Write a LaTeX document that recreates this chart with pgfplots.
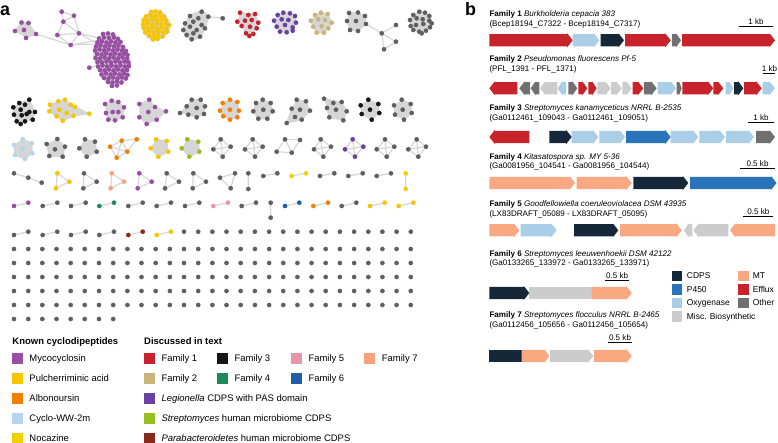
\documentclass[border=0pt]{standalone}
\usepackage{pgfplots}
\pgfplotsset{compat=1.18}
\usepackage{fontspec}
\setmainfont{Liberation Sans}
\definecolor{myco}{RGB}{152,78,163}
\definecolor{pulch}{RGB}{246,196,0}
\definecolor{albo}{RGB}{243,128,0}
\definecolor{cww}{RGB}{183,212,238}
\definecolor{noca}{RGB}{238,210,0}
\definecolor{fam1}{RGB}{200,32,44}
\definecolor{fam2}{RGB}{203,180,122}
\definecolor{fam3}{RGB}{22,22,22}
\definecolor{fam4}{RGB}{30,138,90}
\definecolor{fam5}{RGB}{232,150,166}
\definecolor{fam6}{RGB}{31,95,168}
\definecolor{fam7}{RGB}{250,160,124}
\definecolor{legio}{RGB}{106,64,160}
\definecolor{strep}{RGB}{150,192,30}
\definecolor{parab}{RGB}{140,40,25}
\definecolor{ngray}{RGB}{95,95,95}
\definecolor{egray}{RGB}{214,214,214}
\definecolor{cdps}{RGB}{20,40,58}
\definecolor{p450}{RGB}{40,115,185}
\definecolor{oxy}{RGB}{170,205,232}
\definecolor{misc}{RGB}{204,204,204}
\definecolor{mt}{RGB}{250,168,130}
\definecolor{efflux}{RGB}{200,35,43}
\definecolor{other}{RGB}{112,112,112}
\newcommand{\fa}{\fontsize{9.5}{11}\selectfont}
\newcommand{\fb}{\fontsize{8.1}{9.5}\selectfont}
\newcommand{\fc}{\fontsize{8.5}{10}\selectfont}
\pgfplotsset{
 nd/.style={only marks, mark=*, mark size=2.1, forget plot},
 ed/.style={no marks, draw=egray, line width=1.2pt, forget plot, unbounded coords=jump},
 hull/.style={no marks, fill=egray, draw=egray, line width=1.2pt, forget plot},
}
\newcommand{\garrow}[4]{%
 \pgfmathsetmacro\gL{abs(#2-#1)}%
 \pgfmathsetmacro\gH{min(5.5,0.55*\gL)}%
 \pgfmathsetmacro\gB{#2-sign(#2-#1)*\gH}%
 \pgfmathsetmacro\gT{#3-6.2}\pgfmathsetmacro\gBt{#3+6.2}%
 \pgfmathsetmacro\gTT{#3-7}\pgfmathsetmacro\gBB{#3+7}%
 \edef\gtmp{\noexpand\addplot[fill=#4,draw=none,forget plot] coordinates {(#1,\gT)(\gB,\gT)(\gB,\gTT)(#2,#3)(\gB,\gBB)(\gB,\gBt)(#1,\gBt)};}%
 \gtmp}
\newcommand{\gbox}[4]{%
 \pgfmathsetmacro\gT{#3-6.2}\pgfmathsetmacro\gBt{#3+6.2}%
 \edef\gtmp{\noexpand\addplot[fill=#4,draw=none,forget plot] coordinates {(#1,\gT)(#2,\gT)(#2,\gBt)(#1,\gBt)};}%
 \gtmp}
\newcommand{\lsq}[3]{\addplot[only marks,mark=square*,mark size=5,color=#3,forget plot] coordinates {(#1,#2)};}
\newcommand{\lsqb}[3]{\addplot[only marks,mark=square*,mark size=4.7,color=#3,forget plot] coordinates {(#1,#2)};}
\begin{document}
\begin{tikzpicture}
\begin{axis}[x=1bp,y=1bp,y dir=reverse,xmin=0,xmax=778,ymin=0,ymax=443,hide axis,clip=false]
% ---------------- panel a : hulls (dense edges)
\addplot[hull] coordinates {(15,31)(21.5,22.5)(28.5,23)(36,34)(26,38)};
\addplot[hull] coordinates {(103,33)(113,33)(119,38)(123,46)(127,51)(129,58)(130,66)(128,74)(126,79)(122,83)(117,86)(111,86)(107,82)(102,78)(99,70)(96,64)(94,56)(94,49)(96,42)(99,37)};
\addplot[hull] coordinates {(151,11)(160,11)(165,15)(169,21)(170,27)(168,33)(163,37)(158,40)(152,40)(148,37)(144,32)(142,25)(143,19)(146,15)};
\addplot[hull] coordinates {(190,15)(202,10.5)(209,16)(205,28)(201,37)(192,40)(186,36)(183,30)(185,22)};
\addplot[hull] coordinates {(240,12.7)(255,14)(258.3,22.7)(256.7,28.3)(249.3,36)(246,33.3)(241.7,26)(237.3,21.7)};
\addplot[hull] coordinates {(277.7,15)(283.3,12.7)(290,13.3)(295,16)(296,22.7)(292.7,27.3)(286.7,32.3)(280,31.7)(276.7,26.7)(274,20.7)};
\addplot[hull] coordinates {(315,15)(321,12.7)(327.7,14)(331.7,22.7)(328.3,28.3)(324,32.7)(316.7,32.7)(313.3,26.7)(310.7,20.7)};
\addplot[hull] coordinates {(349,13)(358,12.5)(365,16)(366,24)(358,31)(350,30)(347,21)};
\addplot[hull] coordinates {(413.3,15)(419.3,11.7)(425,12.7)(429.3,16)(431.7,23.3)(430,27.3)(421.7,33.3)(413.3,30)(410.7,26)(410,20)};
% row 2
\addplot[hull] coordinates {(19.3,103)(29.3,99.7)(35,112)(32.7,119.7)(25,121.3)(20.7,124)(16.7,121.3)(14,114.7)(13.3,107.3)};
\addplot[hull] coordinates {(50,104.7)(58.3,101.3)(65,99.7)(70.7,104.7)(75,107)(89.3,113.7)(73.3,116)(62.7,120.7)(56.7,116.3)(49.3,111.3)};
\addplot[hull] coordinates {(105,104)(111.7,100.7)(118.3,102)(124,107.3)(122.7,117.3)(115,120.3)(108.3,119.7)(106,113)};
\addplot[hull] coordinates {(139.3,104)(149.3,99.7)(155,107)(166,111.3)(156.7,119.7)(146.7,124)(139.3,117.3)};
\addplot[hull] coordinates {(180,113)(186.7,106.3)(191.7,99.7)(200.7,99.7)(205,106.3)(204,114)(196.7,117.3)(188.3,114.7)};
\addplot[hull] coordinates {(222.7,103)(230,99.7)(237.3,102)(239,110.7)(237.3,117.3)(230,119.7)(223.3,116.3)(220,110.7)};
\addplot[hull] coordinates {(262.7,99.7)(270.7,103)(272.7,111.3)(267.3,118.7)(258.3,118.7)(253.3,111.3)(256,103)};
\addplot[hull] coordinates {(296.7,99.7)(306,101.3)(310,110.7)(301.7,119.7)(286.7,123)(291.7,108.7)};
\addplot[hull] coordinates {(324,98.7)(341.7,102)(346.7,111.3)(343.3,120.3)(329.3,117.3)(327,108)};
\addplot[hull] coordinates {(368.3,99.7)(378.3,104)(379.3,113)(371.7,119.7)(361.7,114)(360.7,105.3)};
\addplot[hull] coordinates {(401.7,99.7)(410.7,104)(411.7,113)(404,119.7)(395,114.7)(394,105.3)};
% row 3
\addplot[hull] coordinates {(22.7,139)(31.7,143.3)(32.3,153.3)(25,159)(15,155)(14,145)};
\addplot[hull] coordinates {(57.3,139)(65,146.7)(62.7,156.7)(49.3,156)(46.7,144)};
\addplot[hull] coordinates {(85,139.3)(95,141.7)(96.7,151.7)(86.7,156.7)(79.3,148.3)};
\addplot[hull] coordinates {(156,139.3)(166.7,141)(168.3,151.7)(158.3,156.7)(150.7,148.3)};
\addplot[hull] coordinates {(187.3,139.3)(198.3,141.7)(199.3,151.7)(189.3,156.7)(181.7,148.3)};
% ---------------- panel a : edges
\addplot[ed] coordinates {
(61.7,11.7)(74,15.7)(79,33.3)(70.7,45)(57.3,35)(63.3,21.7)(61.7,11.7)(nan,nan)
(74,15.7)(63.3,21.7)(79,33.3)(57.3,35)(nan,nan)
(36,34)(70.7,45)(97,44)(nan,nan)
(70.7,45)(100,40)(nan,nan)
(79,33.3)(99,38)(nan,nan)
(79,33.3)(96,43)(nan,nan)
(89.3,67.7)(96,66)(nan,nan)
(208.3,16.7)(222.7,18.3)(nan,nan)
(366,24)(381.7,33.3)(396,25)(nan,nan)
(381.7,33.3)(396,41.7)(384,49.3)(381.7,33.3)(nan,nan)
(110,146.7)(121.7,140.7)(136.7,139.3)(127.3,151.7)(116.7,157.7)(110,146.7)(127.3,151.7)(121.7,140.7)(116.7,157.7)(nan,nan)
(220.7,139.3)(230.7,146.7)(222.7,156.7)(213.3,149.3)(220.7,139.3)(222.7,156.7)(nan,nan)(230.7,146.7)(213.3,149.3)(nan,nan)
(252.7,139.3)(262.7,146.7)(255,156.7)(245,149.3)(252.7,139.3)(255,156.7)(nan,nan)(262.7,146.7)(245,149.3)(nan,nan)
(285,139.3)(300,140)(291.7,152.7)(276.7,151.7)(285,139.3)(291.7,152.7)(nan,nan)
(320.7,139.3)(331,146.7)(323.3,156.7)(314,149.3)(320.7,139.3)(323.3,156.7)(nan,nan)(331,146.7)(314,149.3)(nan,nan)
(352.7,139.3)(363.3,146.7)(355,156.7)(345,149.3)(352.7,139.3)(355,156.7)(nan,nan)(363.3,146.7)(345,149.3)(nan,nan)
(385,139.3)(394.3,146.7)(386.7,156.7)(376.7,149.3)(385,139.3)(386.7,156.7)(nan,nan)(394.3,146.7)(376.7,149.3)(nan,nan)
(416.7,139.3)(426,146.7)(418.3,156.7)(408.3,149.3)(416.7,139.3)(418.3,156.7)(nan,nan)(426,146.7)(408.3,149.3)(nan,nan)
(14,173.3)(28.3,177.7)(41.7,182.7)(nan,nan)
(57.3,173.3)(69.3,181.7)(56,188.3)(57.3,173.3)(nan,nan)
(84,173.3)(96.7,181.7)(83.3,188.3)(84,173.3)(nan,nan)
(111.7,173.3)(124,181.7)(110.7,188.3)(111.7,173.3)(nan,nan)
(139.3,173.3)(151.7,181.7)(137.7,188.3)(139.3,173.3)(nan,nan)
(166.7,173.3)(179,181.7)(165,188.3)(166.7,173.3)(nan,nan)
(193.3,173.3)(206,181.7)(192.7,188.3)(193.3,173.3)(nan,nan)
(220,177.7)(235,173.3)(230.7,188.3)(220,177.7)(nan,nan)
(248.3,173.3)(248.3,189)(nan,nan)
(263.3,176)(277.3,173.3)(nan,nan)
(291.7,176)(306,173.3)(nan,nan)
(320,176)(334.3,173.3)(nan,nan)
(348.3,176)(362.7,173.3)(nan,nan)
(376.7,176)(391,173.3)(nan,nan)
(405.7,173.3)(405.7,189)(nan,nan)
(14,206)(28.3,202.7)(nan,nan)
(42.7,206)(57.3,202.7)(nan,nan)
(71,206)(85.7,202.7)(nan,nan)
(99.3,206)(114,202.7)(nan,nan)
(128.3,206)(142.7,202.7)(nan,nan)
(156.7,206)(171,202.7)(nan,nan)
(185,206)(199.3,202.7)(nan,nan)
(213.3,206)(228,202.7)(nan,nan)
(241.7,206)(256,202.7)(nan,nan)
(270.7,202.7)(270.7,217.7)(nan,nan)
(285,206)(299.3,202.7)(nan,nan)
(313.3,206)(328,202.7)(nan,nan)
(341.7,206)(356.3,202.7)(nan,nan)
(370,206)(384.7,202.7)(nan,nan)
(398.7,206)(413.3,202.7)(nan,nan)
(14,235)(28.3,231.7)(nan,nan)
(42.7,235)(57.3,231.7)(nan,nan)
(71,235)(85.7,231.7)(nan,nan)
(99.3,235)(114,231.7)(nan,nan)
(128.3,235)(142.7,231.7)(nan,nan)
(156.7,235)(171,231.7)
};
% ---------------- panel a : nodes
\addplot[nd,color=myco] coordinates {
(15,31)(21.5,22.5)(28.5,23)(36,34)(26,38)(24,30)
(61.7,11.7)(74,15.7)(63.3,21.7)(79,33.3)(57.3,35)(70.7,45)(89.3,67.7)
(103,34)(108,33.5)(113,34.5)
(99,38.5)(104,37.5)(109,38)(114,37.5)(118,39)
(97.5,42.5)(102,41.5)(106.5,42.5)(111,41.5)(115.5,42.5)(120.5,42)
(96,46.5)(100.5,45.5)(105,46.5)(109.5,45.5)(114,46.5)(118.5,45.5)(123,47)
(95,50.5)(99.5,49.5)(104,50.5)(108.5,49.5)(113,50.5)(117.5,49.5)(122,50.5)(126,51)
(97,54)(101.5,54.5)(106,53.5)(110.5,54.5)(115,53.5)(119.5,54.5)(124,53.5)(127.5,55)
(95.5,58)(100,58.5)(104.5,57.5)(109,58.5)(113.5,57.5)(118,58.5)(122.5,57.5)(127,58.5)
(97.5,62)(102,62.5)(106.5,61.5)(111,62.5)(115.5,61.5)(120,62.5)(124.5,61.5)(128.5,62.5)
(98,66.5)(102.5,65.5)(107,66.5)(111.5,65.5)(116,66.5)(120.5,65.5)(125,66.5)(129,66)
(100,70)(104.5,70.5)(109,69.5)(113.5,70.5)(118,69.5)(122.5,70.5)(127,70)
(101.5,74.5)(106,73.5)(110.5,74.5)(115,73.5)(119.5,74.5)(124,73.5)(127.5,75)
(104,78)(108.5,78.5)(113,77.5)(117.5,78.5)(122,77.5)(126,78.5)
(108,82)(112.5,82.5)(117,81.5)(121.5,82.5)(112,86)(117,85.5)
(105,104)(111.7,100.7)(118.3,102)(124,107.3)(106,113)(112.7,112)(118.3,112)(122.7,117.3)(108.3,119.7)(115,120.3)
(139.3,104)(149.3,99.7)(155,107)(166,111.3)(148.3,112)(139.3,117.3)(146.7,124)(156.7,119.7)
(139.3,173.3)(151.7,181.7)(137.7,188.3)
(14,206)(28.3,202.7)
};
\addplot[nd,color=pulch] coordinates {
(151,12)(155.5,11.5)(160,12.5)
(146,16.5)(150.5,15.5)(155,16.5)(159.5,15.5)(164,16.5)
(143.5,20)(148,20.5)(152.5,19.5)(157,20.5)(161.5,19.5)(166,20.5)
(143,24.5)(147.5,23.5)(152,24.5)(156.5,23.5)(161,24.5)(165.5,23.5)(169,25)
(143.5,28)(148,28.5)(152.5,27.5)(157,28.5)(161.5,27.5)(166,28.5)
(145,32.5)(149.5,31.5)(154,32.5)(158.5,31.5)(163,32.5)(167,31.5)
(149,36)(153.5,36.5)(158,35.5)(162.5,36.5)(153,39.5)(157.5,39)
(50,104.7)(58.3,101.3)(65,99.7)(70.7,104.7)(75,107)(59.3,109.7)(66.7,113)(73.3,116)(49.3,111.3)(56.7,116.3)(62.7,120.7)(89.3,113.7)
(156,139.3)(166.7,141)(168.3,151.7)(158.3,156.7)(150.7,148.3)
(57.3,173.3)(69.3,181.7)(56,188.3)
(370,206)(384.7,202.7)(398.7,206)(413.3,202.7)
(156.7,235)(171,231.7)
};
\addplot[nd,color=noca] coordinates {(291.7,176)(306,173.3)(405.7,173.3)(405.7,189)};
\addplot[nd,color=fam1] coordinates {(240,12.7)(248.3,15)(255,14)(237.3,21.7)(245,20.7)(251.7,20)(258.3,22.7)(241.7,26)(250,26.7)(256.7,28.3)(246,33.3)(253.3,34)(249.3,36)};
\addplot[nd,color=legio] coordinates {(277.7,15)(283.3,12.7)(290,13.3)(295,16)(274,20.7)(281.7,19.3)(288.3,20)(296,22.7)(276.7,26.7)(285,25)(292.7,27.3)(280,31.7)(286.7,32.3)(292.7,30.7)
(352.7,139.3)(363.3,146.7)(355,156.7)(345,149.3)};
\addplot[nd,color=fam2] coordinates {(315,15)(321,12.7)(327.7,14)(310.7,20.7)(318.3,19.3)(325,20)(331.7,22.7)(313.3,26.7)(321.7,26)(328.3,28.3)(316.7,32.7)(324,32.7)};
\addplot[nd,color=fam3] coordinates {(29.3,99.7)(19.3,103)(25,104.7)(13.3,107.3)(20.7,109.7)(29.3,112)(35,112)(14,114.7)(21.7,115.3)(26.7,114)(16.7,121.3)(25,121.3)(32.7,119.7)(20.7,124)
(368.3,99.7)(378.3,104)(379.3,113)(371.7,119.7)(361.7,114)(360.7,105.3)(370,109.7)};
\addplot[nd,color=albo] coordinates {(222.7,103)(230,99.7)(237.3,102)(220,110.7)(230,109.7)(239,110.7)(223.3,116.3)(230,119.7)(237.3,117.3)
(110,146.7)(121.7,140.7)(136.7,139.3)(127.3,151.7)(116.7,157.7)(313.3,206)(328,202.7)};
\addplot[nd,color=cww] coordinates {(22.7,139)(31.7,143.3)(32.3,153.3)(25,159)(15,155)(14,145)(22.7,149)};
\addplot[nd,color=strep] coordinates {(187.3,139.3)(198.3,141.7)(199.3,151.7)(189.3,156.7)(181.7,148.3)};
\addplot[nd,color=fam4] coordinates {(99.3,206)(114,202.7)};
\addplot[nd,color=fam5] coordinates {(213.3,206)(228,202.7)};
\addplot[nd,color=fam6] coordinates {(285,206)(299.3,202.7)};
\addplot[nd,color=fam7] coordinates {(111.7,173.3)(124,181.7)(110.7,188.3)};
\addplot[nd,color=parab] coordinates {(128.3,235)(142.7,231.7)};
\addplot[nd,color=ngray] coordinates {
(201.7,11.7)(208.3,16.7)(190,16)(198.3,18.3)(193.3,21.7)(185,23.3)(201.7,25)(190,26.7)(183.3,30)(196.7,30)(205,28.3)(193.3,33.3)(186.7,35)(200,36.7)(191.7,39.3)(222.7,18.3)
(349,13)(358,12.5)(365,16)(347,21)(356,21)(366,24)(350,30)(358,31)(381.7,33.3)(396,25)(396,41.7)(384,49.3)
(413.3,15)(419.3,11.7)(425,12.7)(429.3,16)(410,20)(416.7,18.3)(422.7,19.3)(429.3,20.7)(431.7,23.3)(410.7,26)(416,25)(423.3,24)(430,27.3)(413.3,30)(419.3,31.7)(426,30.7)(421.7,33.3)
(191.7,99.7)(200.7,99.7)(205,106.3)(186.7,106.3)(196.7,108)(188.3,114.7)(196.7,117.3)(204,114)(180,113)
(262.7,99.7)(270.7,103)(272.7,111.3)(267.3,118.7)(258.3,118.7)(253.3,111.3)(256,103)(263.3,109.7)
(296.7,99.7)(306,101.3)(310,110.7)(301.7,119.7)(291.7,108.7)(300,109.7)(295,117)(286.7,123)
(324,98.7)(333.3,103)(341.7,102)(346.7,111.3)(343.3,120.3)(329.3,117.3)(336,109.7)(327,108)
(401.7,99.7)(410.7,104)(411.7,113)(404,119.7)(395,114.7)(394,105.3)(402.7,109.7)
(57.3,139)(65,146.7)(62.7,156.7)(49.3,156)(46.7,144)(55,149.3)
(85,139.3)(95,141.7)(96.7,151.7)(86.7,156.7)(79.3,148.3)
(220.7,139.3)(230.7,146.7)(222.7,156.7)(213.3,149.3)
(252.7,139.3)(262.7,146.7)(255,156.7)(245,149.3)
(285,139.3)(300,140)(291.7,152.7)(276.7,151.7)
(320.7,139.3)(331,146.7)(323.3,156.7)(314,149.3)
(385,139.3)(394.3,146.7)(386.7,156.7)(376.7,149.3)
(416.7,139.3)(426,146.7)(418.3,156.7)(408.3,149.3)
(14,173.3)(28.3,177.7)(41.7,182.7)(84,173.3)(96.7,181.7)(83.3,188.3)(166.7,173.3)(179,181.7)(165,188.3)
(193.3,173.3)(206,181.7)(192.7,188.3)(220,177.7)(235,173.3)(230.7,188.3)(248.3,173.3)(248.3,189)
(263.3,176)(277.3,173.3)(320,176)(334.3,173.3)(348.3,176)(362.7,173.3)(376.7,176)(391,173.3)
(42.7,206)(57.3,202.7)(71,206)(85.7,202.7)(128.3,206)(142.7,202.7)(156.7,206)(171,202.7)(185,206)(199.3,202.7)
(241.7,206)(256,202.7)(270.7,202.7)(270.7,217.7)(341.7,206)(356.3,202.7)
(14,235)(28.3,231.7)(42.7,235)(57.3,231.7)(71,235)(85.7,231.7)(99.3,235)(114,231.7)
(184,231.7)(198.2,231.7)(212.4,231.7)(226.5,231.7)(240.7,231.7)(254.9,231.7)(269.1,231.7)(283.2,231.7)(297.4,231.7)(311.6,231.7)(325.7,231.7)(339.9,231.7)(354.1,231.7)(368.3,231.7)(382.4,231.7)(396.6,231.7)(410.8,231.7)
(14,249)(28.2,249)(42.3,249)(56.5,249)(70.7,249)(84.8,249)(99,249)(113.2,249)(127.4,249)(141.5,249)(155.7,249)(169.9,249)(184,249)(198.2,249)(212.4,249)(226.5,249)(240.7,249)(254.9,249)(269.1,249)(283.2,249)(297.4,249)(311.6,249)(325.7,249)(339.9,249)(354.1,249)(368.3,249)(382.4,249)(396.6,249)(410.8,249)
(14,263)(28.2,263)(42.3,263)(56.5,263)(70.7,263)(84.8,263)(99,263)(113.2,263)(127.4,263)(141.5,263)(155.7,263)(169.9,263)(184,263)(198.2,263)(212.4,263)(226.5,263)(240.7,263)(254.9,263)(269.1,263)(283.2,263)(297.4,263)(311.6,263)(325.7,263)(339.9,263)(354.1,263)(368.3,263)(382.4,263)(396.6,263)(410.8,263)
(14,277)(28.2,277)(42.3,277)(56.5,277)(70.7,277)(84.8,277)(99,277)(113.2,277)(127.4,277)(141.5,277)(155.7,277)(169.9,277)(184,277)(198.2,277)(212.4,277)(226.5,277)(240.7,277)(254.9,277)(269.1,277)(283.2,277)(297.4,277)(311.6,277)(325.7,277)(339.9,277)(354.1,277)(368.3,277)(382.4,277)(396.6,277)(410.8,277)
(14,291)(28.2,291)(42.3,291)(56.5,291)(70.7,291)(84.8,291)(99,291)(113.2,291)(127.4,291)(141.5,291)(155.7,291)(169.9,291)(184,291)(198.2,291)(212.4,291)(226.5,291)(240.7,291)(254.9,291)(269.1,291)(283.2,291)(297.4,291)(311.6,291)(325.7,291)(339.9,291)(354.1,291)(368.3,291)(382.4,291)(396.6,291)(410.8,291)
(14,305)(28.2,305)(42.3,305)(56.5,305)(70.7,305)(84.8,305)(99,305)(113.2,305)(127.4,305)(141.5,305)(155.7,305)(169.9,305)(184,305)(198.2,305)(212.4,305)(226.5,305)(240.7,305)(254.9,305)(269.1,305)(283.2,305)(297.4,305)(311.6,305)(325.7,305)(339.9,305)(354.1,305)(368.3,305)(382.4,305)(396.6,305)(410.8,305)
(14,319)(28.2,319)(42.3,319)(56.5,319)(70.7,319)(84.8,319)(99,319)(113.2,319)
};
% ---------------- panel a : legend
\node[anchor=base west,inner sep=0,font=\fontsize{18}{19}\selectfont\bfseries] at (axis cs:0,15.5) {a};
\node[anchor=base west,inner sep=0,font=\fa\bfseries] at (axis cs:12.3,344.8) {Known cyclodipeptides};
\node[anchor=base west,inner sep=0,font=\fa\bfseries] at (axis cs:144,344.8) {Discussed in text};
\lsq{17.3}{358}{myco}\lsq{17.3}{378}{pulch}\lsq{17.3}{398}{albo}\lsq{17.3}{418}{cww}\lsq{17.3}{437.7}{noca}
\lsq{149}{358}{fam1}\lsq{149}{378}{fam2}\lsq{149}{398}{legio}\lsq{149}{418}{strep}\lsq{149}{437.7}{parab}
\lsq{222.3}{358}{fam3}\lsq{222.3}{378}{fam4}
\lsq{296}{358}{fam5}\lsq{296}{378}{fam6}
\lsq{369.3}{358}{fam7}
\node[anchor=base west,inner sep=0,font=\fa] at (axis cs:29.3,361.3) {Mycocyclosin};
\node[anchor=base west,inner sep=0,font=\fa] at (axis cs:29.3,381.3) {Pulcherriminic acid};
\node[anchor=base west,inner sep=0,font=\fa] at (axis cs:29.3,401.3) {Albonoursin};
\node[anchor=base west,inner sep=0,font=\fa] at (axis cs:29.3,421.3) {Cyclo-WW-2m};
\node[anchor=base west,inner sep=0,font=\fa] at (axis cs:29.3,441) {Nocazine};
\node[anchor=base west,inner sep=0,font=\fa] at (axis cs:161.3,361.3) {Family 1};
\node[anchor=base west,inner sep=0,font=\fa] at (axis cs:161.3,381.3) {Family 2};
\node[anchor=base west,inner sep=0,font=\fa] at (axis cs:161.3,401.3) {\textit{Legionella} CDPS with PAS domain};
\node[anchor=base west,inner sep=0,font=\fa] at (axis cs:161.3,421.3) {\textit{Streptomyces} human microbiome CDPS};
\node[anchor=base west,inner sep=0,font=\fa] at (axis cs:161.3,441) {\textit{Parabacteroidetes} human microbiome CDPS};
\node[anchor=base west,inner sep=0,font=\fa] at (axis cs:234.3,361.3) {Family 3};
\node[anchor=base west,inner sep=0,font=\fa] at (axis cs:234.3,381.3) {Family 4};
\node[anchor=base west,inner sep=0,font=\fa] at (axis cs:308.3,361.3) {Family 5};
\node[anchor=base west,inner sep=0,font=\fa] at (axis cs:308.3,381.3) {Family 6};
\node[anchor=base west,inner sep=0,font=\fa] at (axis cs:381.7,361.3) {Family 7};
% ---------------- panel b
\node[anchor=base west,inner sep=0,font=\fontsize{18}{19}\selectfont\bfseries] at (axis cs:465,15.5) {b};
% Family 1
\node[anchor=base west,inner sep=0,font=\fb] at (axis cs:489.3,17) {\textbf{Family 1} \textit{Burkholderia cepacia 383}};
\node[anchor=base west,inner sep=0,font=\fb] at (axis cs:489.3,27) {(Bcep18194\_C7322 - Bcep18194\_C7317)};
\addplot[black,line width=1pt,forget plot] coordinates {(739,27)(773,27)};
\node[anchor=south,inner sep=0.5,font=\fb] at (axis cs:756,25.5) {1 kb};
\garrow{489.3}{572.7}{40.3}{efflux}
\garrow{572.7}{599.3}{40.3}{oxy}
\garrow{600.7}{624}{40.3}{cdps}
\garrow{625}{670.7}{40.3}{efflux}
\garrow{672}{681}{40.3}{other}
\garrow{682}{775}{40.3}{efflux}
% Family 2
\node[anchor=base west,inner sep=0,font=\fb] at (axis cs:489.3,62) {\textbf{Family 2} \textit{Pseudomonas fluorescens Pf-5}};
\node[anchor=base west,inner sep=0,font=\fb] at (axis cs:489.3,72) {(PFL\_1391 - PFL\_1371)};
\addplot[black,line width=1pt,forget plot] coordinates {(763.3,74)(775,74)};
\node[anchor=south,inner sep=0.5,font=\fb] at (axis cs:769.5,72.5) {1 kb};
\garrow{517.3}{489.3}{88.3}{efflux}
\garrow{530}{519.3}{88.3}{other}
\garrow{539.3}{530.7}{88.3}{other}
\garrow{557.3}{540}{88.3}{misc}
\garrow{566}{557.7}{88.3}{oxy}
\garrow{568.3}{577.3}{88.3}{other}
\garrow{578.3}{587.3}{88.3}{efflux}
\garrow{588.3}{596.7}{88.3}{efflux}
\garrow{597.3}{610.7}{88.3}{misc}
\garrow{611}{621.7}{88.3}{misc}
\garrow{622.3}{631.7}{88.3}{misc}
\garrow{632.7}{643.3}{88.3}{efflux}
\garrow{644}{656.7}{88.3}{other}
\garrow{657.7}{676}{88.3}{oxy}
\garrow{676.7}{681.7}{88.3}{other}
\garrow{682.3}{713.3}{88.3}{efflux}
\garrow{713.3}{723.3}{88.3}{efflux}
\garrow{725.7}{733.3}{88.3}{oxy}
\garrow{734}{743.3}{88.3}{cdps}
\garrow{744}{761.7}{88.3}{efflux}
\garrow{762.7}{775}{88.3}{oxy}
% Family 3
\node[anchor=base west,inner sep=0,font=\fb] at (axis cs:489.3,111) {\textbf{Family 3} \textit{Streptomyces kanamyceticus NRRL B-2535}};
\node[anchor=base west,inner sep=0,font=\fb] at (axis cs:489.3,121) {(Ga0112461\_109043 - Ga0112461\_109051)};
\addplot[black,line width=1pt,forget plot] coordinates {(748.3,122.7)(774,122.7)};
\node[anchor=south,inner sep=0.5,font=\fb] at (axis cs:761,121.2) {1 kb};
\garrow{529.3}{489.3}{137}{efflux}
\garrow{549.3}{571.7}{137}{cdps}
\garrow{571.7}{598.3}{137}{oxy}
\garrow{599.3}{625}{137}{oxy}
\garrow{626}{670.7}{137}{p450}
\garrow{670.7}{698.3}{137}{oxy}
\garrow{699.3}{725}{137}{oxy}
\garrow{726}{754}{137}{oxy}
\garrow{756}{775}{137}{other}
% Family 4
\node[anchor=base west,inner sep=0,font=\fb] at (axis cs:489.3,159.4) {\textbf{Family 4} \textit{Kitasatospora sp. MY 5-36}};
\node[anchor=base west,inner sep=0,font=\fb] at (axis cs:489.3,168.7) {(Ga0081956\_104541 - Ga0081956\_104544)};
\addplot[black,line width=1pt,forget plot] coordinates {(740,169)(775,169)};
\node[anchor=south,inner sep=0.5,font=\fb] at (axis cs:757.5,167.5) {0.5 kb};
\garrow{489.3}{575}{183}{mt}
\garrow{576.7}{631.7}{183}{mt}
\garrow{633.3}{688.3}{183}{cdps}
\garrow{690}{776.5}{183}{p450}
% Family 5
\node[anchor=base west,inner sep=0,font=\fb] at (axis cs:489.3,206.7) {\textbf{Family 5} \textit{Goodfellowiella coeruleoviolacea DSM 43935}};
\node[anchor=base west,inner sep=0,font=\fb] at (axis cs:489.3,216.7) {(LX83DRAFT\_05089 - LX83DRAFT\_05095)};
\addplot[black,line width=1pt,forget plot] coordinates {(743.3,216.7)(773.3,216.7)};
\node[anchor=south,inner sep=0.5,font=\fb] at (axis cs:758.3,215.2) {0.5 kb};
\garrow{489.3}{519.3}{230.3}{mt}
\garrow{520.7}{556.7}{230.3}{oxy}
\garrow{574}{618.3}{230.3}{cdps}
\garrow{620}{681.7}{230.3}{mt}
\garrow{692.3}{684}{230.3}{misc}
\garrow{728.3}{693.3}{230.3}{misc}
\garrow{775}{730}{230.3}{mt}
% Family 6
\node[anchor=base west,inner sep=0,font=\fb] at (axis cs:489.3,256.7) {\textbf{Family 6} \textit{Streptomyces leeuwenhoekii DSM 42122}};
\node[anchor=base west,inner sep=0,font=\fb] at (axis cs:489.3,266) {(Ga0133265\_133972 - Ga0133265\_133971)};
\addplot[black,line width=1pt,forget plot] coordinates {(605,280.7)(629.3,280.7)};
\node[anchor=south,inner sep=0.5,font=\fb] at (axis cs:617.2,279.2) {0.5 kb};
\gbox{529.3}{592}{293}{misc}
\garrow{489.3}{529.3}{293}{cdps}
\garrow{591.7}{631.7}{293}{mt}
% Family 7
\node[anchor=base west,inner sep=0,font=\fb] at (axis cs:489.3,317.7) {\textbf{Family 7} \textit{Streptomyces flocculus NRRL B-2465}};
\node[anchor=base west,inner sep=0,font=\fb] at (axis cs:489.3,327.7) {(Ga0112456\_105656 - Ga0112456\_105654)};
\addplot[black,line width=1pt,forget plot] coordinates {(608.3,342.3)(631.7,342.3)};
\node[anchor=south,inner sep=0.5,font=\fb] at (axis cs:620,340.8) {0.5 kb};
\gbox{489.3}{521.7}{356}{cdps}
\garrow{521.7}{549.3}{356}{mt}
\garrow{550}{593.3}{356}{misc}
\garrow{594}{631.7}{356}{mt}
% legend b
\lsqb{676.7}{275.8}{cdps}\lsqb{676.7}{289.3}{p450}\lsqb{676.7}{302.8}{oxy}\lsqb{676.7}{316.3}{misc}
\lsqb{743.3}{275.8}{mt}\lsqb{743.3}{289.3}{efflux}\lsqb{743.3}{302.8}{other}
\node[anchor=base west,inner sep=0,font=\fc] at (axis cs:686.7,278.8) {CDPS};
\node[anchor=base west,inner sep=0,font=\fc] at (axis cs:686.7,292.3) {P450};
\node[anchor=base west,inner sep=0,font=\fc] at (axis cs:686.7,305.8) {Oxygenase};
\node[anchor=base west,inner sep=0,font=\fc] at (axis cs:686.7,319.3) {Misc. Biosynthetic};
\node[anchor=base west,inner sep=0,font=\fc] at (axis cs:752.7,278.8) {MT};
\node[anchor=base west,inner sep=0,font=\fc] at (axis cs:752.7,292.3) {Efflux};
\node[anchor=base west,inner sep=0,font=\fc] at (axis cs:752.7,305.8) {Other};
\end{axis}
\pgfresetboundingbox
\path (current axis.south west) rectangle (current axis.north east);
\end{tikzpicture}
\end{document}
